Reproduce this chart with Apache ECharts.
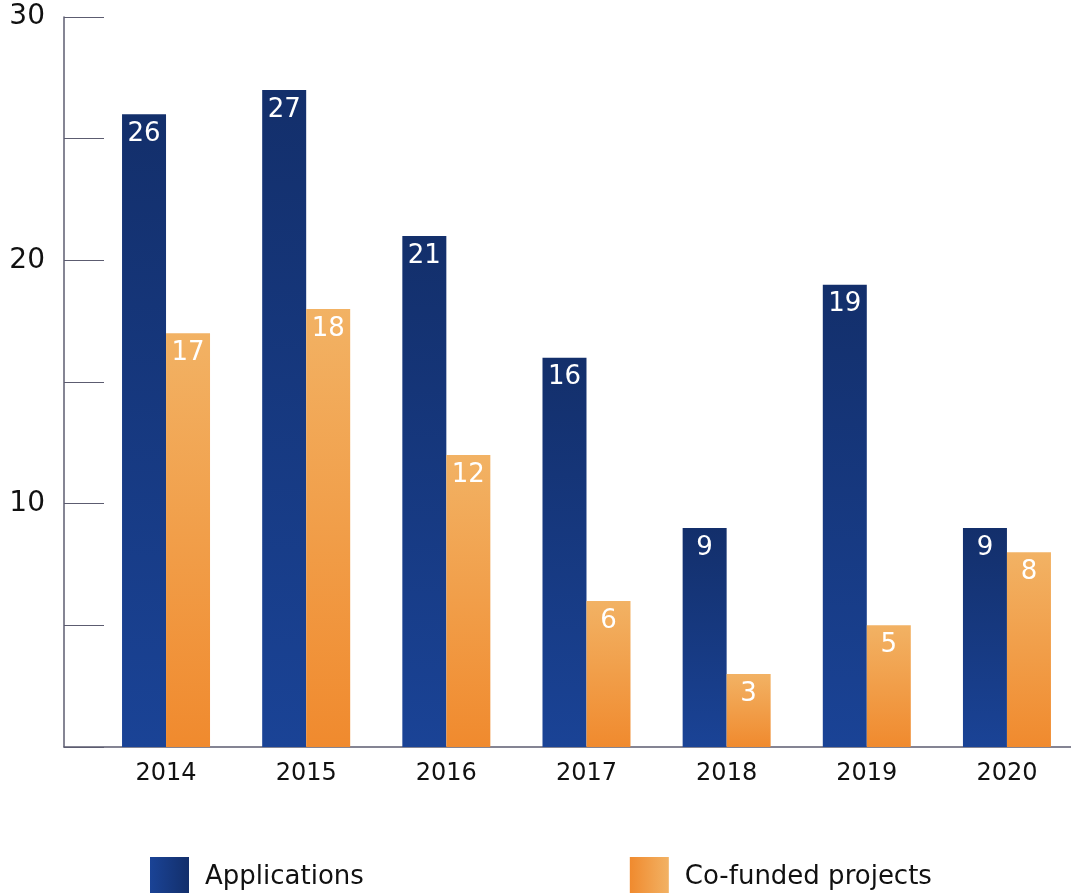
<!DOCTYPE html>
<html>
<head>
<meta charset="utf-8">
<script src="https://cdn.jsdelivr.net/npm/echarts@6/dist/echarts.min.js"></script>
<style>
  html, body { margin: 0; padding: 0; background: #fff; }
  #main { width: 1071px; height: 893px; }
</style>
</head>
<body>
<div id="main"></div>
<script>
// chart data
const years = [2014, 2015, 2016, 2017, 2018, 2019, 2020];
const applications = [26, 27, 21, 16, 9, 19, 9];
const coFunded = [17, 18, 12, 6, 3, 5, 8];
const yLabels = [10, 20, 30];

const font = 'DejaVu Sans, Verdana, sans-serif';

const grad = (top, bottom) => new echarts.graphic.LinearGradient(0, 0, 0, 1, [
    {offset: 0, color: top},
    {offset: 1, color: bottom}
]);
const hgrad = (left, right) => new echarts.graphic.LinearGradient(0, 0, 1, 0, [
    {offset: 0, color: left},
    {offset: 1, color: right}
]);

const pairs = (vals) => years.map((y, i) => [y, vals[i]]);

const label = {
    show: true,
    position: 'insideTop',
    distance: 7,
    color: '#fff',
    fontSize: 26,
    fontFamily: font
};

const myChart = echarts.init(document.getElementById('main'));
const option = {
    animation: false,
    grid: {left: 64, right: 0, top: 17, bottom: 146},
    legend: {
        left: 145,
        top: 852,
        itemWidth: 39,
        itemHeight: 40,
        itemGap: 266,
        textStyle: {fontSize: 26, color: '#111', fontFamily: font, padding: [0, 0, 0, 11]},
        data: [
            {name: 'Applications', icon: 'rect', itemStyle: {color: hgrad('#1a4396', '#132f6b')}},
            {name: 'Co-funded projects', icon: 'rect', itemStyle: {color: hgrad('#f08a2e', '#f2b264')}}
        ]
    },
    xAxis: {
        type: 'value',
        min: 2013.272,
        max: 2020.457,
        axisLine: {show: true, lineStyle: {color: '#5c5c70', width: 1.5}},
        axisTick: {show: false},
        splitLine: {show: false},
        axisLabel: {
            customValues: years,
            margin: 15,
            fontSize: 24,
            color: '#111',
            fontFamily: font,
            formatter: (v) => String(v)
        }
    },
    yAxis: {
        type: 'value',
        min: 0,
        max: 30,
        interval: 5,
        axisLine: {show: true, lineStyle: {color: '#5c5c70', width: 1.5}},
        axisTick: {show: true, inside: true, length: 40, lineStyle: {color: '#5c5c70', width: 1.2}},
        splitLine: {show: false},
        axisLabel: {
            margin: 19,
            fontSize: 28,
            color: '#111',
            fontFamily: font,
            formatter: (v) => yLabels.indexOf(v) >= 0 ? String(v) : ''
        }
    },
    series: [
        {
            name: 'Applications',
            type: 'bar',
            barWidth: 44,
            barGap: '0%',
            data: pairs(applications),
            itemStyle: {color: grad('#132f6b', '#1a4396')},
            label: label
        },
        {
            name: 'Co-funded projects',
            type: 'bar',
            barWidth: 44,
            barGap: '0%',
            data: pairs(coFunded),
            itemStyle: {color: grad('#f2b264', '#f08a2e')},
            label: label
        }
    ]
};
myChart.setOption(option);
</script>
</body>
</html>
